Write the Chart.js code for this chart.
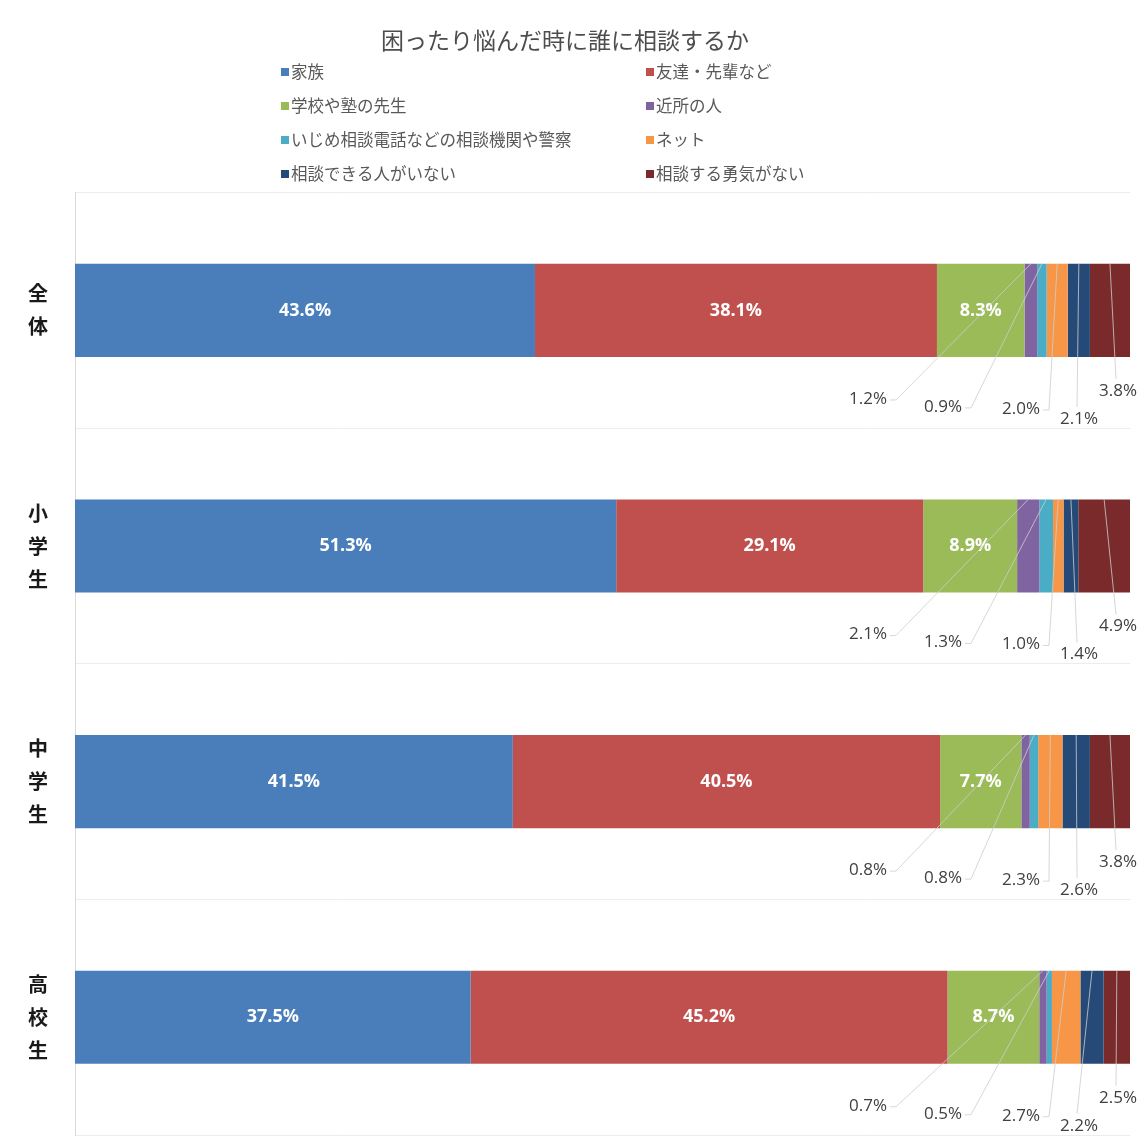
<!DOCTYPE html>
<html>
<head>
<meta charset="utf-8">
<script src="https://cdn.jsdelivr.net/npm/chart.js@4/dist/chart.umd.min.js"></script>
<style>
  body { margin: 0; background: #fff; overflow: hidden; }
  #wrap { position: relative; width: 1147px; height: 1146px; }
</style>
</head>
<body>
<div id="wrap"><canvas id="myChart"></canvas></div>
<script>
// 困ったり悩んだ時に誰に相談するか
const categories = [["全", "体"], ["小", "学", "生"], ["中", "学", "生"], ["高", "校", "生"]];
const seriesNames = [
  "家族", "友達・先輩など", "学校や塾の先生", "近所の人",
  "いじめ相談電話などの相談機関や警察", "ネット", "相談できる人がいない", "相談する勇気がない"
];
const seriesColors = ["#4a7ebb", "#c0504d", "#9bbb59", "#8064a2", "#4bacc6", "#f79646", "#254a78", "#7a2a2a"];

const kazoku = [43.6, 51.3, 41.5, 37.5];
const tomodachi = [38.1, 29.1, 40.5, 45.2];
const sensei = [8.3, 8.9, 7.7, 8.7];
const kinjo = [1.2, 2.1, 0.8, 0.7];
const soudanKikan = [0.9, 1.3, 0.8, 0.5];
const net = [2.0, 1.0, 2.3, 2.7];
const inai = [2.1, 1.4, 2.6, 2.2];
const yuuki = [3.8, 4.9, 3.8, 2.5];

const seriesValues = [kazoku, tomodachi, sensei, kinjo, soudanKikan, net, inai, yuuki];

const datasets = seriesNames.map((name, i) => ({
  label: name,
  data: seriesValues[i],
  backgroundColor: seriesColors[i],
  borderWidth: 0,
  barPercentage: 0.395,
  categoryPercentage: 1
}));

// ラベル（小さい値は棒の下に引き出し線つき）
const outsideX = [-262, -187, -109, -51, -12];
const outsideY = [42, 50, 52, 62, 34];

const valueLabels = {
  id: "valueLabels",
  afterDatasetsDraw(chart) {
    const ctx = chart.ctx;
    const right = chart.chartArea.right;
    ctx.save();
    chart.data.datasets.forEach((ds, i) => {
      const meta = chart.getDatasetMeta(i);
      meta.data.forEach((bar, j) => {
        const v = ds.data[j];
        const txt = v.toFixed(1) + "%";
        const cx = (bar.x + bar.base) / 2;
        const top = bar.y - bar.height / 2;
        const bottom = bar.y + bar.height / 2;
        if (i < 3) {
          ctx.font = "bold 18px 'Open Sans', sans-serif";
          ctx.fillStyle = "#ffffff";
          ctx.textAlign = "center";
          ctx.textBaseline = "middle";
          ctx.fillText(txt, cx, bar.y);
          return;
        }
        const k = i - 3;
        const lx = right + outsideX[k];
        const ly = bottom + outsideY[k];
        ctx.font = "17px 'Open Sans', sans-serif";
        const w = ctx.measureText(txt).width;
        ctx.strokeStyle = "rgba(205,205,205,0.8)";
        ctx.lineWidth = 1;
        ctx.beginPath();
        if (k >= 3) {
          ctx.moveTo(lx - 2, ly - 12);
          ctx.lineTo(cx, top);
        } else {
          ctx.moveTo(lx + w / 2 + 3, ly + 1);
          ctx.lineTo(lx + w / 2 + 9, ly + 1);
          ctx.lineTo(cx, top);
        }
        ctx.stroke();
        ctx.fillStyle = "#404040";
        ctx.textAlign = "center";
        ctx.textBaseline = "middle";
        ctx.fillText(txt, lx, ly);
      });
    });
    ctx.restore();
  }
};

// 2列の凡例
const twoColLegend = {
  id: "twoColLegend",
  afterDraw(chart) {
    const ctx = chart.ctx;
    const colX = [281, 646];
    ctx.save();
    ctx.font = "16.5px 'Noto Sans CJK JP', sans-serif";
    ctx.textBaseline = "middle";
    ctx.textAlign = "left";
    chart.data.datasets.forEach((ds, i) => {
      const x = colX[i % 2];
      const y = 72 + Math.floor(i / 2) * 34;
      ctx.fillStyle = ds.backgroundColor;
      ctx.fillRect(x, y - 4, 8, 8);
      ctx.fillStyle = "#595959";
      ctx.fillText(ds.label, x + 10, y);
    });
    ctx.restore();
  }
};

new Chart(document.getElementById("myChart"), {
  type: "bar",
  data: { labels: categories, datasets: datasets },
  options: {
    indexAxis: "y",
    responsive: true,
    maintainAspectRatio: false,
    animation: false,
    layout: { padding: { left: 0, right: 17, bottom: 11 } },
    scales: {
      x: {
        stacked: true,
        min: 0,
        max: 100,
        display: false
      },
      y: {
        stacked: true,
        afterFit: (scale) => {
          scale.width = 75;
          scale.paddingTop = 0;
          scale.paddingBottom = 0;
        },
        grid: { color: "#ececec", drawTicks: false, offset: true },
        border: { color: "#d9d9d9" },
        ticks: {
          padding: 27,
          color: "#1a1a1a",
          font: { family: "'Noto Sans CJK JP', sans-serif", size: 20, weight: "bold", lineHeight: 1.65 }
        }
      }
    },
    plugins: {
      legend: { display: false },
      tooltip: { enabled: false },
      title: {
        display: true,
        text: "困ったり悩んだ時に誰に相談するか",
        color: "#4d4d4d",
        font: { family: "'Noto Sans CJK JP', sans-serif", size: 23, weight: "normal" },
        padding: { top: 26, bottom: 139 }
      }
    }
  },
  plugins: [valueLabels, twoColLegend]
});
</script>
</body>
</html>
